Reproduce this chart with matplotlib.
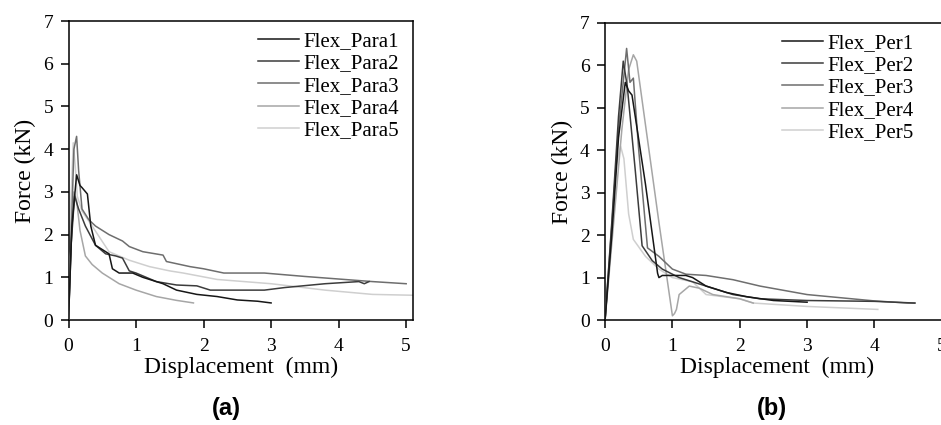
import matplotlib.pyplot as plt

# (a) parallel specimens
para1_x = [0, 0.05, 0.12, 0.17, 0.2, 0.28, 0.33, 0.4, 0.55, 0.6, 0.65, 0.75, 0.95, 1.1, 1.4, 1.6, 1.9, 2.2, 2.5, 2.8, 3.0]
para1_y = [0, 2.2, 3.4, 3.15, 3.1, 2.95, 2.2, 1.75, 1.6, 1.55, 1.2, 1.1, 1.1, 1.0, 0.85, 0.7, 0.6, 0.55, 0.47, 0.44, 0.4]
para2_x = [0, 0.04, 0.09, 0.15, 0.25, 0.4, 0.55, 0.7, 0.8, 0.9, 1.0, 1.3, 1.6, 1.9, 2.1, 2.5, 2.9, 3.2, 3.8, 4.3, 4.38, 4.45]
para2_y = [0, 1.8, 2.9, 2.6, 2.2, 1.75, 1.55, 1.5, 1.45, 1.15, 1.1, 0.9, 0.82, 0.8, 0.7, 0.7, 0.7, 0.76, 0.85, 0.9, 0.85, 0.9]
para3_x = [0, 0.03, 0.08, 0.12, 0.15, 0.2, 0.3, 0.4, 0.6, 0.8, 0.9, 1.1, 1.4, 1.45, 1.8, 2.0, 2.3, 2.9, 3.5, 4.0, 4.5, 5.0]
para3_y = [0, 1.5, 4.0, 4.3, 3.5, 2.6, 2.35, 2.2, 2.0, 1.85, 1.72, 1.6, 1.52, 1.37, 1.25, 1.2, 1.1, 1.1, 1.02, 0.96, 0.9, 0.85]
para4_x = [0, 0.03, 0.08, 0.12, 0.17, 0.25, 0.35, 0.5, 0.75, 1.0, 1.3, 1.6, 1.85]
para4_y = [0, 1.5, 3.0, 2.8, 2.1, 1.5, 1.3, 1.1, 0.85, 0.7, 0.55, 0.46, 0.4]
para5_x = [0, 0.03, 0.07, 0.1, 0.13, 0.2, 0.35, 0.6, 0.9, 1.2, 1.5, 1.7, 2.2, 3.0, 3.8, 4.5, 5.1]
para5_y = [0, 2.5, 4.15, 3.6, 2.9, 2.55, 2.2, 1.6, 1.4, 1.25, 1.15, 1.1, 0.95, 0.85, 0.7, 0.6, 0.58]

# (b) perpendicular specimens
per1_x = [0, 0.1, 0.2, 0.3, 0.35, 0.4, 0.6, 0.78, 0.8, 0.85, 1.2, 1.3, 1.5, 1.8, 2.1, 2.5, 3.0]
per1_y = [0, 2.0, 4.3, 5.6, 5.4, 5.3, 3.2, 1.1, 1.0, 1.05, 1.05, 1.0, 0.8, 0.65, 0.55, 0.46, 0.42]
per2_x = [0, 0.1, 0.2, 0.27, 0.33, 0.45, 0.55, 0.7, 0.85, 1.1, 1.5, 1.9, 2.3, 3.0, 4.0, 4.6]
per2_y = [0, 2.3, 4.8, 6.1, 5.5, 3.5, 1.75, 1.4, 1.2, 1.0, 0.8, 0.6, 0.5, 0.46, 0.44, 0.4]
per3_x = [0, 0.1, 0.2, 0.32, 0.37, 0.42, 0.5, 0.63, 0.8, 1.0, 1.2, 1.5, 1.9, 2.3, 3.0, 4.0, 4.5, 4.6]
per3_y = [0, 2.2, 4.5, 6.4, 5.6, 5.7, 4.0, 1.7, 1.5, 1.2, 1.08, 1.05, 0.95, 0.8, 0.6, 0.45, 0.4, 0.4]
per4_x = [0, 0.1, 0.25, 0.35, 0.42, 0.47, 0.6, 0.8, 1.0, 1.03, 1.06, 1.1, 1.25, 1.4, 1.6, 2.0, 2.2]
per4_y = [0, 1.8, 4.5, 5.9, 6.25, 6.1, 4.6, 2.3, 0.1, 0.15, 0.25, 0.6, 0.8, 0.75, 0.6, 0.5, 0.4]
per5_x = [0, 0.08, 0.16, 0.23, 0.28, 0.35, 0.42, 0.6, 0.8, 1.0, 1.3, 1.5, 2.0, 2.2, 3.0, 4.05]
per5_y = [0, 1.8, 3.6, 4.1, 3.8, 2.5, 1.9, 1.5, 1.2, 1.0, 0.9, 0.6, 0.5, 0.4, 0.32, 0.25]

colors = ['#161616', '#3c3c3c', '#6e6e6e', '#a6a6a6', '#cfcfcf']

plt.rcParams['font.family'] = ['Liberation Serif', 'DejaVu Serif']

fig = plt.figure(figsize=(9.41, 4.25), dpi=100)
ax1 = fig.add_axes([0.0728, 0.247, 0.366, 0.7035])
ax2 = fig.add_axes([0.643, 0.247, 0.365, 0.699])

series_a = [(para1_x, para1_y, 'Flex_Para1'), (para2_x, para2_y, 'Flex_Para2'),
            (para3_x, para3_y, 'Flex_Para3'), (para4_x, para4_y, 'Flex_Para4'),
            (para5_x, para5_y, 'Flex_Para5')]
series_b = [(per1_x, per1_y, 'Flex_Per1'), (per2_x, per2_y, 'Flex_Per2'),
            (per3_x, per3_y, 'Flex_Per3'), (per4_x, per4_y, 'Flex_Per4'),
            (per5_x, per5_y, 'Flex_Per5')]

for ax, series, lx in [(ax1, series_a, 0.55), (ax2, series_b, 0.515)]:
    # darker lines on top, legend keeps the series order
    lines = []
    for i, (x, y, lab) in enumerate(series):
        ln, = ax.plot(x, y, color=colors[i], lw=1.1, label=lab, zorder=6 - i)
        lines.append(ln)
    ax.set_xlim(0, 5.1)
    ax.set_ylim(0, 7)
    ax.set_xticks([0, 1, 2, 3, 4, 5])
    ax.set_yticks(range(8))
    ax.tick_params(direction='out', length=6, width=1.1, labelsize=14)
    ax.tick_params(axis='x', pad=7)
    ax.tick_params(axis='y', pad=5)
    for s in ax.spines.values():
        s.set_linewidth(1.1)
    ax.set_xlabel('Displacement  (mm)', fontsize=17, labelpad=1)
    ax.set_ylabel('Force (kN)', fontsize=17, labelpad=5)
    ax.legend(handles=lines, loc='upper left', bbox_to_anchor=(lx, 0.965),
              frameon=False, fontsize=15, borderpad=0, borderaxespad=0,
              handlelength=1.95, handletextpad=0.25, labelspacing=0.13)

fig.text(0.241, 0.04, '(a)', fontsize=17, fontweight='bold',
         family='Liberation Sans', ha='center', va='center')
fig.text(0.82, 0.04, '(b)', fontsize=17, fontweight='bold',
         family='Liberation Sans', ha='center', va='center')

plt.savefig('out.png', dpi=100)
